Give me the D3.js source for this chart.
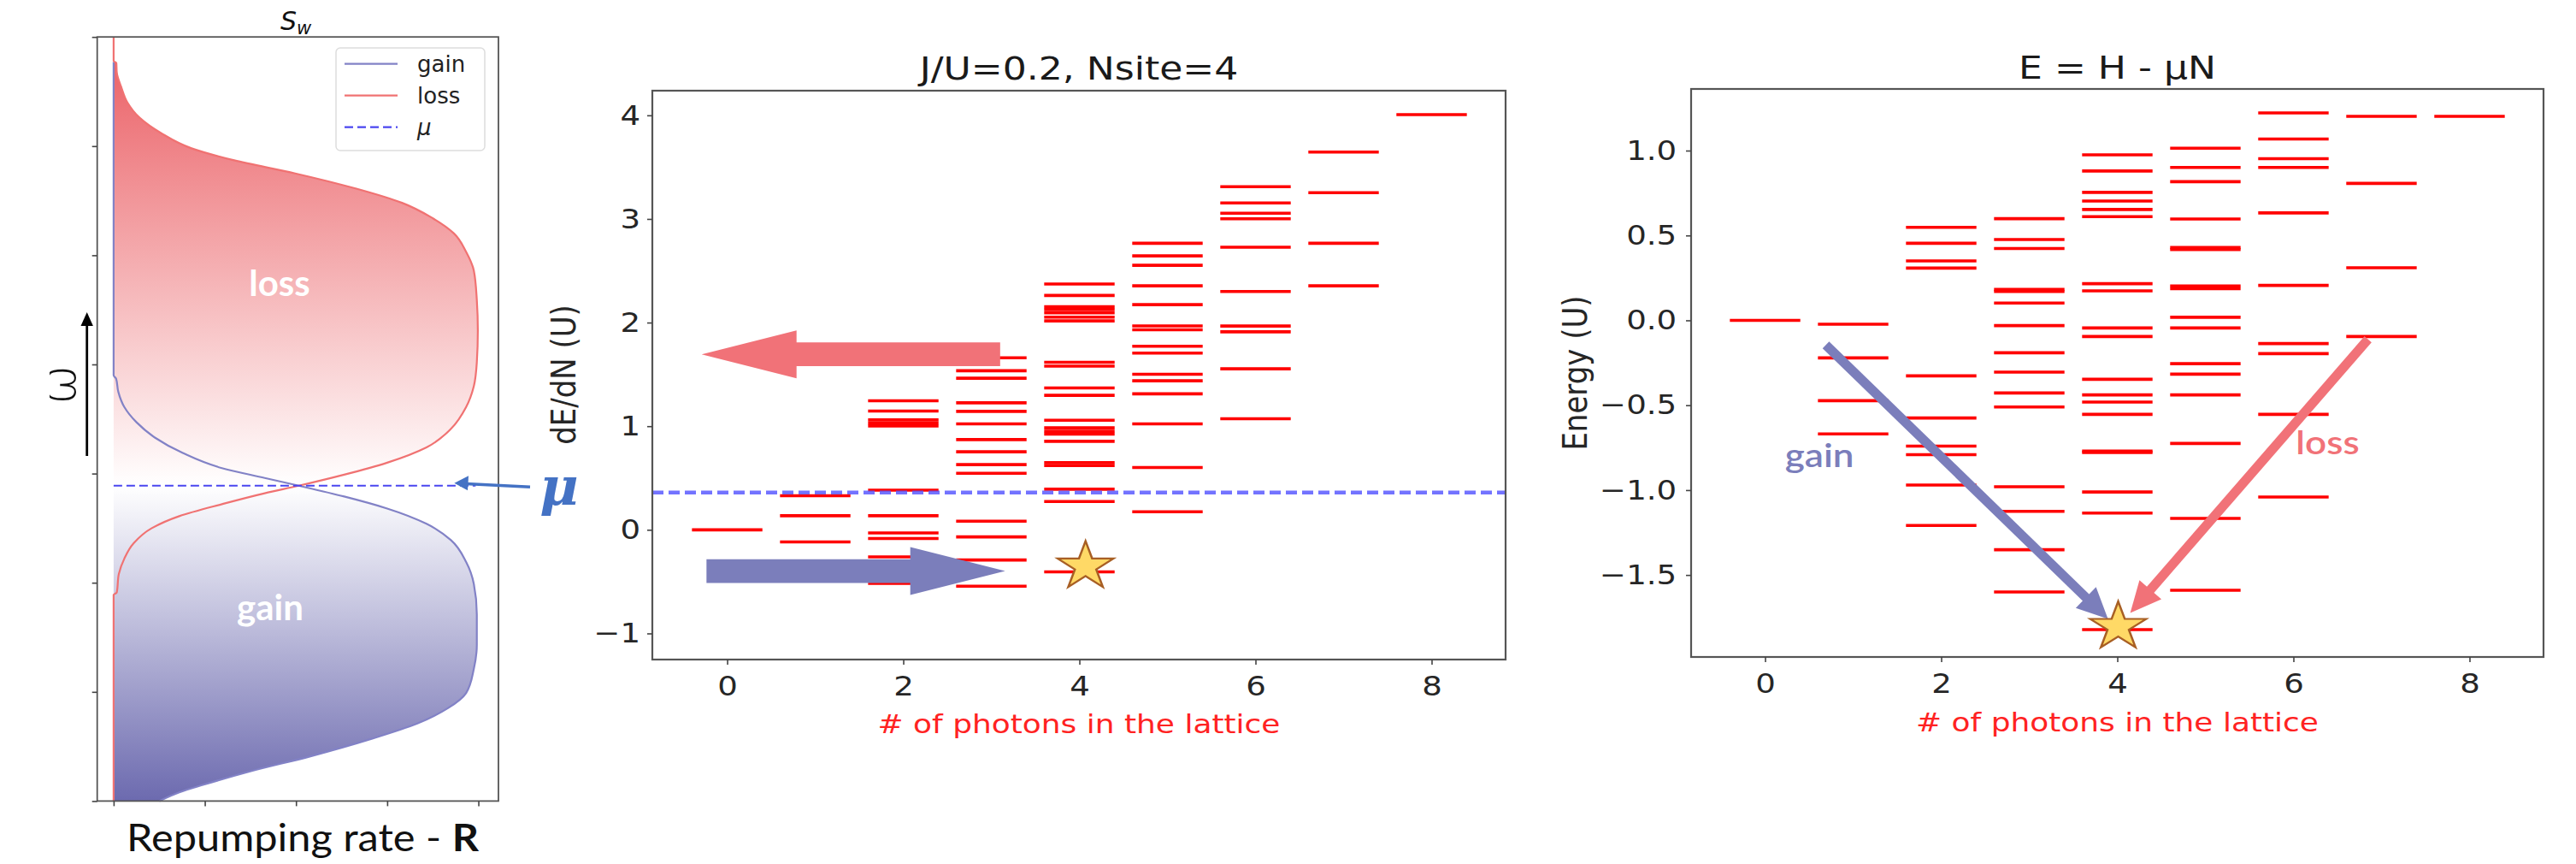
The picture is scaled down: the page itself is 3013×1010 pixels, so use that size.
<!DOCTYPE html>
<html>
<head>
<meta charset="utf-8">
<script src="https://cdn.jsdelivr.net/npm/d3@7"></script>
<style>
  html, body { margin: 0; padding: 0; background: #fff; }
  svg text { font-family: "DejaVu Sans", sans-serif; }
</style>
</head>
<body>
<div id="figure"></div>
<script>
//#region Data
// left panel: spectral weight S_w, omega (vertical) vs repumping rate R
const omegaTicks = [0, 1, 2, 3, 4, 5, 6, 7];
const rateTicks = [0, 1, 2, 3, 4];
const muOmega = 2.889;
// [omega, R], top to bottom
const lossCurve = [
    [7.00, 0.000], [6.78, 0.000], [6.76, 0.030], [6.68, 0.034], [6.54, 0.084],
    [6.40, 0.151], [6.26, 0.285], [6.12, 0.519], [5.98, 0.854], [5.87, 1.322],
    [5.75, 1.991], [5.61, 2.661], [5.48, 3.163], [5.34, 3.498], [5.20, 3.732],
    [5.03, 3.866], [4.86, 3.950], [4.59, 3.983], [4.31, 3.994], [4.02, 3.983],
    [3.80, 3.950], [3.61, 3.866], [3.41, 3.699], [3.24, 3.431], [3.10, 3.000],
    [2.99, 2.528], [2.889, 2.030], [2.82, 1.657], [2.72, 1.188], [2.61, 0.720],
    [2.50, 0.419], [2.36, 0.218], [2.22, 0.117], [2.08, 0.057], [1.91, 0.034],
    [1.89, 0.000], [0.00, 0.000]
];
// [omega, R], top to bottom
const gainCurve = [
    [6.77, 0.000], [3.90, 0.000], [3.87, 0.027], [3.75, 0.051], [3.61, 0.117],
    [3.47, 0.251], [3.33, 0.452], [3.19, 0.754], [3.05, 1.188], [2.96, 1.657],
    [2.889, 2.030], [2.79, 2.528], [2.68, 3.000], [2.54, 3.431], [2.39, 3.699],
    [2.19, 3.866], [1.99, 3.950], [1.71, 3.983], [1.43, 3.983], [1.21, 3.950],
    [0.99, 3.866], [0.85, 3.665], [0.71, 3.331], [0.57, 2.829], [0.41, 2.159],
    [0.27, 1.489], [0.15, 0.988], [0.08, 0.720], [0.00, 0.502]
];
const legendLabels = ["gain", "loss", "\u03bc"];

// middle and right panels: levels per photon number
const photonCounts = [0, 1, 2, 3, 4, 5, 6, 7, 8];
const photonTicks = [0, 2, 4, 6, 8];
const dEdNTicks = [-1, 0, 1, 2, 3, 4];
const energyTicks = [-1.5, -1.0, -0.5, 0.0, 0.5, 1.0];
const muDEdN = 0.359;

const dEdNLevels = [
    [0.000],
    [0.329, 0.136, -0.117],
    [1.245, 1.146, 1.061, 1.031, 1.003, 0.383, 0.136, -0.030, -0.084, -0.261, -0.517],
    [1.660, 1.535, 1.463, 1.226, 1.143, 1.023, 0.871, 0.753, 0.629, 0.546, 0.083, -0.068, -0.291, -0.544],
    [2.372, 2.262, 2.154, 2.126, 2.093, 2.052, 2.016, 1.617, 1.580, 1.369, 1.298, 1.058, 0.984, 0.951,
     0.923, 0.854, 0.648, 0.620, 0.392, 0.273, -0.406],
    [2.765, 2.644, 2.553, 2.355, 2.173, 1.968, 1.930, 1.772, 1.705, 1.501, 1.438, 1.312, 1.023, 0.601, 0.174],
    [3.311, 3.154, 3.055, 3.002, 2.727, 2.300, 1.967, 1.911, 1.554, 1.072],
    [3.646, 3.253, 2.765, 2.355],
    [4.007]
];

const energyLevels = [
    [0.000],
    [-0.023, -0.221, -0.473, -0.669],
    [0.548, 0.454, 0.350, 0.308, -0.327, -0.575, -0.741, -0.791, -0.970, -1.208],
    [0.599, 0.476, 0.423, 0.182, 0.170, 0.102, -0.031, -0.191, -0.305, -0.428, -0.510, -0.980, -1.125, -1.351, -1.600],
    [0.975, 0.880, 0.754, 0.703, 0.653, 0.611, 0.216, 0.174, -0.045, -0.095, -0.347, -0.439, -0.481, -0.554,
     -0.770, -0.779, -1.011, -1.135, -1.822],
    [1.014, 0.901, 0.817, 0.597, 0.429, 0.417, 0.203, 0.186, 0.018, -0.045, -0.255, -0.317, -0.439, -0.725, -1.167, -1.590],
    [1.222, 1.068, 0.952, 0.901, 0.633, 0.206, -0.137, -0.196, -0.554, -1.041],
    [1.202, 0.807, 0.310, -0.095],
    [1.202]
];

// annotations, in data units of their panel
const midLossArrow = { from: [3.10, 1.694], to: [-0.29, 1.694] };
const midGainArrow = { from: [-0.235, -0.398], to: [3.157, -0.398] };
const midStar = [4.07, -0.353];
const rightGainArrow = { from: [0.69, -0.145], to: [3.894, -1.759] };
const rightLossArrow = { from: [6.847, -0.112], to: [4.147, -1.724] };
const rightStar = [4.01, -1.805];
const rightGainLabel = [0.617, -0.864];
const rightLossLabel = [6.388, -0.787];
//#endregion

//#region Setup
const W = 3013, H = 1010;
const stretch = 1.16;          // the two level plots are slightly wide in the original
const barHalf = 0.4;
const red = "#ff0000";
const gainColor = "#8282c6";
const lossColor = "#f07272";
const arrowBlue = "#7b7ebb";
const arrowRed = "#f17278";

const svg = d3.select("#figure").append("svg")
    .attr("width", W).attr("height", H)
    .style("display", "block");
svg.append("rect").attr("width", W).attr("height", H).attr("fill", "#fff");
const defs = svg.append("defs");

function label(g, x, y, str, o) {
    o = o || {};
    let tr = `translate(${x},${y})`;
    if (o.sx) tr += ` scale(${o.sx},1)`;
    if (o.rotate) tr += ` rotate(${o.rotate})`;
    return g.append("text")
        .attr("transform", tr)
        .attr("text-anchor", o.anchor || "middle")
        .style("font-family", o.family || "DejaVu Sans, sans-serif")
        .style("font-size", o.size + "px")
        .style("font-weight", o.weight || "normal")
        .style("font-style", o.style || "normal")
        .attr("fill", o.fill || "#262626")
        .text(str);
}

function styleAxis(g, size, sx) {
    g.select(".domain").remove();
    g.selectAll(".tick line").attr("stroke", "#444").attr("stroke-width", 1.6);
    g.selectAll(".tick text")
        .style("font-size", size + "px")
        .attr("fill", "#262626")
        .attr("transform", sx ? `scale(${sx},1)` : null);
}
//#endregion

//#region Left panel: S_w
function drawSpectrum() {
    const g = svg.append("g");
    const x = d3.scaleLinear().domain([-0.18, 4.22]).range([113.7, 583]);
    const y = d3.scaleLinear().domain([0, 7]).range([936.4, 43.2]);

    const redGrad = defs.append("linearGradient").attr("id", "lossGrad")
        .attr("gradientUnits", "userSpaceOnUse")
        .attr("x1", 0).attr("x2", 0).attr("y1", y(7)).attr("y2", y(muOmega));
    redGrad.append("stop").attr("offset", 0).attr("stop-color", "#ea5a60");
    redGrad.append("stop").attr("offset", 1).attr("stop-color", "#ffffff");

    const blueGrad = defs.append("linearGradient").attr("id", "gainGrad")
        .attr("gradientUnits", "userSpaceOnUse")
        .attr("x1", 0).attr("x2", 0).attr("y1", y(muOmega)).attr("y2", y(0));
    blueGrad.append("stop").attr("offset", 0).attr("stop-color", "#ffffff");
    blueGrad.append("stop").attr("offset", 1).attr("stop-color", "#6c6aaf");

    const area = d3.area()
        .y(d => y(d[0])).x0(x(0)).x1(d => x(d[1]))
        .curve(d3.curveMonotoneY);
    const line = d3.line()
        .y(d => y(d[0])).x(d => x(d[1]))
        .curve(d3.curveMonotoneY);

    g.append("path").datum(lossCurve.filter(d => d[0] >= muOmega))
        .attr("d", area).attr("fill", "url(#lossGrad)");
    g.append("path").datum(gainCurve.filter(d => d[0] <= muOmega))
        .attr("d", area).attr("fill", "url(#gainGrad)");

    g.append("path").datum(gainCurve).attr("d", line)
        .attr("fill", "none").attr("stroke", gainColor).attr("stroke-width", 2.2);
    g.append("path").datum(lossCurve).attr("d", line)
        .attr("fill", "none").attr("stroke", lossColor).attr("stroke-width", 2.2);

    g.append("line")
        .attr("x1", x(0)).attr("x2", x(3.97))
        .attr("y1", y(muOmega)).attr("y2", y(muOmega))
        .attr("stroke", "#4a46f0").attr("stroke-width", 2.2)
        .attr("stroke-dasharray", "10,5");

    // frame and ticks
    g.append("rect")
        .attr("x", x.range()[0]).attr("y", y.range()[1])
        .attr("width", x.range()[1] - x.range()[0])
        .attr("height", y.range()[0] - y.range()[1])
        .attr("fill", "none").attr("stroke", "#555").attr("stroke-width", 1.8);
    const ax = g.append("g").attr("transform", `translate(0,${y.range()[0]})`)
        .call(d3.axisBottom(x).tickValues(rateTicks).tickSize(6).tickFormat(""));
    const ay = g.append("g").attr("transform", `translate(${x.range()[0]},0)`)
        .call(d3.axisLeft(y).tickValues(omegaTicks).tickSize(6).tickFormat(""));
    styleAxis(ax, 10); styleAxis(ay, 10);

    // legend
    const lg = g.append("g");
    lg.append("rect").attr("x", 393).attr("y", 56).attr("width", 174).attr("height", 120)
        .attr("rx", 5).attr("fill", "rgba(255,255,255,0.85)")
        .attr("stroke", "#ddd").attr("stroke-width", 1.5);
    const legendStyles = [
        { stroke: gainColor, dash: null },
        { stroke: lossColor, dash: null },
        { stroke: "#4a46f0", dash: "10,5" }
    ];
    legendLabels.forEach((t, i) => {
        const ly = 74.6 + i * 37;
        lg.append("line").attr("x1", 403).attr("x2", 465).attr("y1", ly).attr("y2", ly)
            .attr("stroke", legendStyles[i].stroke).attr("stroke-width", 2.2)
            .attr("stroke-dasharray", legendStyles[i].dash);
        label(lg, 488, ly + 9, t, { size: 26, anchor: "start", fill: "#222",
            style: i === 2 ? "italic" : "normal" });
    });

    // title S_w
    const title = g.append("text").attr("x", 346).attr("y", 35)
        .attr("text-anchor", "middle").attr("fill", "#111")
        .style("font-style", "italic");
    title.append("tspan").style("font-size", "30px").text("S");
    title.append("tspan").style("font-size", "21px").attr("dy", 5).text("w");

    // white region labels
    label(g, 327, 346, "loss", { size: 42, weight: "bold", fill: "#fff", family: "Lato, sans-serif" });
    label(g, 316, 725, "gain", { size: 42, weight: "bold", fill: "#fff", family: "Lato, sans-serif" });

    // x label
    const xl = g.append("text").attr("x", 354).attr("y", 995)
        .attr("text-anchor", "middle").attr("fill", "#111")
        .style("font-family", "Lato, sans-serif").style("font-size", "44px")
        .attr("textLength", 412).attr("lengthAdjust", "spacingAndGlyphs");
    xl.append("tspan").text("Repumping rate - ");
    xl.append("tspan").style("font-weight", "bold").text("R");

    // omega axis arrow
    g.append("line").attr("x1", 101.7).attr("x2", 101.7).attr("y1", 533).attr("y2", 378)
        .attr("stroke", "#000").attr("stroke-width", 2.8);
    g.append("path").attr("d", "M101.7,365 L94.5,381 L108.9,381 Z").attr("fill", "#000");
    label(g, 88, 449.5, "\u03c9", { size: 56, rotate: -90, fill: "#111", weight: 300 });

    // mu marker
    const my = y(muOmega);
    g.append("line").attr("x1", 620).attr("x2", 545).attr("y1", my + 1.6).attr("y2", my - 2.2)
        .attr("stroke", "#4472c4").attr("stroke-width", 3.5);
    g.append("path")
        .attr("d", `M531.4,${my - 3} L548,${my - 11.5} L547,${my + 5.5} Z`)
        .attr("fill", "#4472c4");
    label(g, 654, 590, "\u03bc", { size: 62, weight: "bold", style: "italic",
        fill: "#4472c4", family: "DejaVu Serif, serif" });
}
//#endregion

//#region Level panels
function blockArrow(g, x0, x1, yc, shaftHalf, headHalf, headLen, color) {
    const dir = Math.sign(x1 - x0);
    const xb = x1 - dir * headLen;
    const pts = [
        [x0, yc - shaftHalf], [xb, yc - shaftHalf], [xb, yc - headHalf], [x1, yc],
        [xb, yc + headHalf], [xb, yc + shaftHalf], [x0, yc + shaftHalf]
    ];
    g.append("path").attr("d", d3.line()(pts) + "Z").attr("fill", color);
}

function lineArrow(g, p0, p1, width, headLen, headHalf, color) {
    const dx = p1[0] - p0[0], dy = p1[1] - p0[1];
    const len = Math.hypot(dx, dy);
    const ux = dx / len, uy = dy / len;
    const bx = p1[0] - ux * headLen, by = p1[1] - uy * headLen;
    g.append("line").attr("x1", p0[0]).attr("y1", p0[1])
        .attr("x2", bx + ux * 2).attr("y2", by + uy * 2)
        .attr("stroke", color).attr("stroke-width", width);
    g.append("path").attr("d", d3.line()([
        [p1[0], p1[1]], [bx - uy * headHalf, by + ux * headHalf], [bx + uy * headHalf, by - ux * headHalf]
    ]) + "Z").attr("fill", color);
}

function drawStar(g, x, y) {
    g.append("path")
        .attr("d", d3.symbol(d3.symbolStar, 985)())
        .attr("transform", `translate(${x},${y}) scale(${stretch},1)`)
        .attr("fill", "#ffd966").attr("stroke", "#a85f24").attr("stroke-width", 2.2);
}

function drawLevels(g, x, y, levels) {
    levels.forEach((col, i) => {
        g.append("g").selectAll("line").data(col).enter().append("line")
            .attr("x1", x(photonCounts[i] - barHalf))
            .attr("x2", x(photonCounts[i] + barHalf))
            .attr("y1", d => y(d)).attr("y2", d => y(d))
            .attr("stroke", red).attr("stroke-width", 3.6);
    });
}

function drawFrame(g, x, y, yTicks, yFormat, yPad) {
    g.append("rect")
        .attr("x", x.range()[0]).attr("y", y.range()[1])
        .attr("width", x.range()[1] - x.range()[0])
        .attr("height", y.range()[0] - y.range()[1])
        .attr("fill", "none").attr("stroke", "#555").attr("stroke-width", 2.2);
    const ax = g.append("g").attr("transform", `translate(0,${y.range()[0]})`)
        .call(d3.axisBottom(x).tickValues(photonTicks).tickSize(6).tickPadding(13));
    const ay = g.append("g").attr("transform", `translate(${x.range()[0]},0)`)
        .call(d3.axisLeft(y).tickValues(yTicks).tickSize(6).tickPadding(yPad).tickFormat(yFormat));
    styleAxis(ax, 32, stretch);
    styleAxis(ay, 32, stretch);
}

function drawDEdN() {
    const g = svg.append("g");
    const x = d3.scaleLinear().domain([-0.85, 8.84]).range([763, 1761]);
    const y = d3.scaleLinear().domain([-1.252, 4.238]).range([771, 106]);

    drawLevels(g, x, y, dEdNLevels);
    g.append("line")
        .attr("x1", x.range()[0]).attr("x2", x.range()[1])
        .attr("y1", y(muDEdN)).attr("y2", y(muDEdN))
        .attr("stroke", "#5b5bff").attr("stroke-opacity", 0.85)
        .attr("stroke-width", 4.5).attr("stroke-dasharray", "13,6");
    drawFrame(g, x, y, dEdNTicks, d3.format("d"), 6);

    blockArrow(g, x(midLossArrow.from[0]), x(midLossArrow.to[0]), y(midLossArrow.from[1]),
        13.9, 28, 111, arrowRed);
    blockArrow(g, x(midGainArrow.from[0]), x(midGainArrow.to[0]), y(midGainArrow.from[1]),
        13.9, 28, 111, arrowBlue);
    drawStar(g, x(midStar[0]), y(midStar[1]));

    label(g, 1262, 93, "J/U=0.2, Nsite=4", { size: 38, sx: stretch, fill: "#1a1a1a" });
    label(g, 1262, 857, "# of photons in the lattice", { size: 31, sx: stretch, fill: "#ff2222" });
    label(g, 673, 438, "dE/dN (U)", { size: 34, sx: stretch, rotate: -90 });
}

function drawEnergy() {
    const g = svg.append("g");
    const x = d3.scaleLinear().domain([-0.84, 8.84]).range([1978, 2975]);
    const y = d3.scaleLinear().domain([-1.983, 1.363]).range([768, 104]);

    drawLevels(g, x, y, energyLevels);
    drawFrame(g, x, y, energyTicks, d3.format(".1f"), 8.5);

    lineArrow(g, [x(rightGainArrow.from[0]), y(rightGainArrow.from[1])],
        [x(rightGainArrow.to[0]), y(rightGainArrow.to[1])], 11, 36, 17, arrowBlue);
    lineArrow(g, [x(rightLossArrow.from[0]), y(rightLossArrow.from[1])],
        [x(rightLossArrow.to[0]), y(rightLossArrow.to[1])], 11, 36, 17, arrowRed);
    drawStar(g, x(rightStar[0]), y(rightStar[1]));

    label(g, x(rightGainLabel[0]), y(rightGainLabel[1]), "gain",
        { size: 38, sx: stretch, fill: arrowBlue, family: "Lato, sans-serif", weight: 600 });
    label(g, x(rightLossLabel[0]), y(rightLossLabel[1]), "loss",
        { size: 38, sx: stretch, fill: arrowRed, family: "Lato, sans-serif", weight: 600 });

    label(g, 2476.5, 92, "E = H - \u03bcN", { size: 38, sx: stretch, fill: "#1a1a1a" });
    label(g, 2476.5, 855, "# of photons in the lattice", { size: 31, sx: stretch, fill: "#ff2222" });
    label(g, 1856, 436, "Energy (U)", { size: 34, sx: stretch, rotate: -90 });
}
//#endregion

drawSpectrum();
drawDEdN();
drawEnergy();
</script>
</body>
</html>
